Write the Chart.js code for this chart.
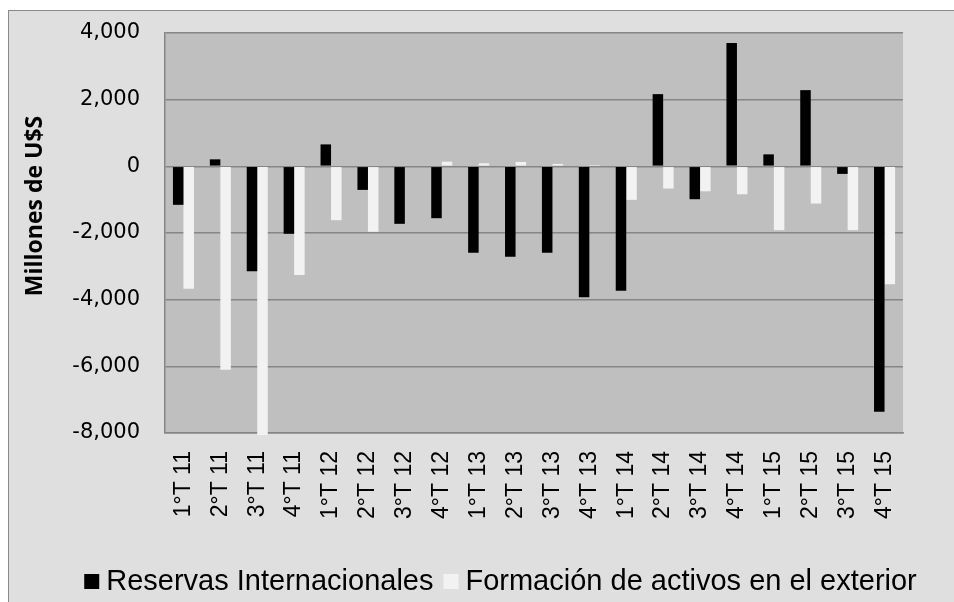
<!DOCTYPE html>
<html>
<head>
<meta charset="utf-8">
<script src="https://cdn.jsdelivr.net/npm/chart.js@4"></script>
<style>
  html, body { margin: 0; padding: 0; background: #ffffff; }
  #wrap { position: relative; width: 954px; height: 602px; overflow: hidden; }
  #frame { position: absolute; left: 8px; top: 10px; width: 1000px; height: 700px;
           background: #dfdfdf; border: 1px solid #8a8a8a; box-sizing: border-box; }
  #c { position: absolute; left: 0; top: 0; }
</style>
</head>
<body>
<div id="wrap">
  <div id="frame"></div>
  <canvas id="c" width="954" height="602"></canvas>
</div>
<script>
// Quarters 2011-2015
const quarters = ["1°T 11","2°T 11","3°T 11","4°T 11","1°T 12","2°T 12","3°T 12","4°T 12",
                  "1°T 13","2°T 13","3°T 13","4°T 13","1°T 14","2°T 14","3°T 14","4°T 14",
                  "1°T 15","2°T 15","3°T 15","4°T 15"];

// Millones de U$S
const reservas = [-1155, 210, -3150, -2024, 658, -707, -1725, -1556, -2592, -2711,
                  -2592, -3929, -3730, 2166, -987, 3701, 359, 2286, -227, -7361];
const formacion = [-3670, -6104, -8060, -3260, -1616, -1963, 0, 140, 90, 130,
                   72, 40, -1006, -667, -748, -838, -1915, -1116, -1915, -3540];

const seriesNames = ["Reservas Internacionales", "Formación de activos en el exterior"];
const yTitle = "Millones de U$S";
const yMin = -8000, yMax = 4000, yStep = 2000;

const lineGray = "#868686";

// Gray plot-area fill under the grid
const plotBackground = {
  id: "plotBackground",
  beforeDraw(chart) {
    const { ctx, chartArea: a } = chart;
    ctx.save();
    ctx.fillStyle = "#bfbfbf";
    ctx.fillRect(a.left, a.top, a.right - a.left, a.bottom - a.top);
    ctx.restore();
  }
};

// Vertical axis title
const axisTitle = {
  id: "axisTitle",
  afterDraw(chart) {
    const { ctx } = chart;
    ctx.save();
    ctx.translate(35, 206);
    ctx.rotate(-Math.PI / 2);
    ctx.font = "bold 23px 'Open Sans'";
    ctx.fillStyle = "#000";
    ctx.textAlign = "center";
    ctx.textBaseline = "middle";
    ctx.fillText(yTitle, 0, 0);
    ctx.restore();
  }
};

// Legend row under the axis labels
const bottomLegend = {
  id: "bottomLegend",
  afterDraw(chart) {
    const { ctx } = chart;
    const ds = chart.data.datasets;
    ctx.save();
    ctx.font = "29px 'Liberation Sans'";
    const box = 15, gapText = 7, gapItem = 10;
    const widths = ds.map(d => ctx.measureText(d.label).width);
    let total = 0;
    widths.forEach((w, i) => { total += box + gapText + w + (i ? gapItem : 0); });
    let x = 500.5 - total / 2;
    const yBox = 574, yText = 590;
    ds.forEach((d, i) => {
      if (i) x += gapItem;
      ctx.fillStyle = d.backgroundColor;
      ctx.fillRect(x, yBox, box, box);
      x += box + gapText;
      ctx.fillStyle = "#000";
      ctx.textBaseline = "alphabetic";
      ctx.textAlign = "left";
      ctx.fillText(d.label, x, yText);
      x += widths[i];
    });
    ctx.restore();
  }
};

new Chart(document.getElementById("c"), {
  type: "bar",
  data: {
    labels: quarters,
    datasets: [
      { label: seriesNames[0], data: reservas, backgroundColor: "#000000",
        categoryPercentage: 0.57, barPercentage: 1.0 },
      { label: seriesNames[1], data: formacion, backgroundColor: "#f2f2f2",
        categoryPercentage: 0.57, barPercentage: 1.0, clip: false }
    ]
  },
  options: {
    responsive: false,
    animation: false,
    layout: { padding: { left: 0, right: 51, top: 33, bottom: 0 } },
    plugins: {
      legend: { display: false },
      tooltip: { enabled: false }
    },
    scales: {
      x: {
        grid: { display: false, drawTicks: false },
        border: { display: true, color: lineGray, width: 1.5 },
        ticks: {
          autoSkip: false, minRotation: 90, maxRotation: 90, padding: 18,
          color: "#000", font: { family: "'Liberation Sans'", size: 23 }
        },
        afterFit(scale) { scale.height = 169; }
      },
      y: {
        min: yMin, max: yMax,
        grid: { color: lineGray, lineWidth: 1.5, drawTicks: false },
        border: { display: true, color: lineGray, width: 1.5 },
        ticks: {
          stepSize: yStep, padding: 25, color: "#000",
          font: { family: "'DejaVu Sans'", size: 21 }
        },
        afterFit(scale) {
          scale.width = 165;
          // keep the tick padding from pushing the plot area down
          scale.paddingTop = 12;
          scale.paddingBottom = 12;
        }
      }
    }
  },
  plugins: [plotBackground, axisTitle, bottomLegend]
});
</script>
</body>
</html>
